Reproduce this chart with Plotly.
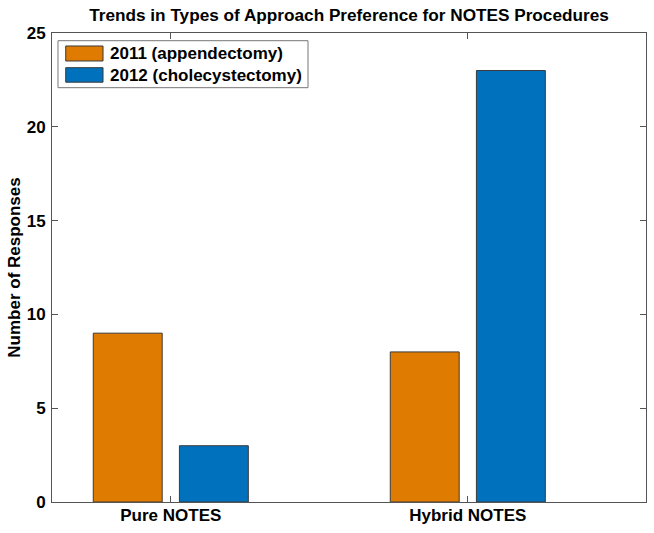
import plotly.graph_objects as go

categories = ["Pure NOTES", "Hybrid NOTES"]
series_names = ["2011 (appendectomy)", "2012 (cholecystectomy)"]
values_2011 = [9, 8]
values_2012 = [3, 23]
y_ticks = [0, 5, 10, 15, 20, 25]
colors = ["#DF7B00", "#0072BD"]

xpos = [1, 2]
FONT = "Liberation Sans, Arial, sans-serif"
AX = "#555555"
FS = 17

fig = go.Figure()
bw = 0.232
for vals, col, off, name in [(values_2011, colors[0], -0.145, series_names[0]),
                             (values_2012, colors[1], 0.145, series_names[1])]:
    fig.add_trace(go.Bar(x=xpos, y=vals, name=name, width=bw, offset=off - bw / 2,
                         marker=dict(color=col, line=dict(color="#3a3a3a", width=1)),
                         showlegend=False, hoverinfo="skip"))

# custom MATLAB-style legend
fig.add_shape(type="rect", xref="paper", yref="paper", x0=0.0101, x1=0.431, y0=0.8834, y1=0.9836,
              line=dict(color="#777777", width=1), fillcolor="white")
sw = [(0.9723, 0.9403, 0.9562), (0.9261, 0.8951, 0.9104)]
for (y1, y0, yc), col, name in zip(sw, colors, series_names):
    fig.add_shape(type="rect", xref="paper", yref="paper", x0=0.0231, x1=0.0859, y0=y0, y1=y1,
                  line=dict(color="#3a3a3a", width=1), fillcolor=col)
    fig.add_annotation(xref="paper", yref="paper", x=0.0943, y=yc, text=name, showarrow=False,
                       xanchor="left", yanchor="middle",
                       font=dict(family=FONT, size=FS, color="black", weight="bold"))

fig.update_layout(
    width=654, height=533,
    margin=dict(l=52, r=8, t=33, b=31, autoexpand=False),
    paper_bgcolor="white", plot_bgcolor="white",
    barmode="overlay",
    title=dict(text="Trends in Types of Approach Preference for NOTES Procedures",
               x=(52 + 646) / 2 / 654, xanchor="center", y=1 - 15 / 533, yanchor="middle",
               automargin=False,
               font=dict(family=FONT, size=17.2, color="black", weight="bold")),
    xaxis=dict(range=[0.6, 2.6], tickvals=xpos, ticktext=categories, ticks="inside", ticklen=6,
               tickcolor=AX, showline=True, linecolor=AX, linewidth=1, mirror="ticks",
               showgrid=False, zeroline=False, ticklabelstandoff=-2, automargin=False,
               tickfont=dict(family=FONT, size=FS, color="black", weight="bold")),
    yaxis=dict(range=[0, 25], tickvals=y_ticks, ticks="inside", ticklen=6,
               tickcolor=AX, showline=True, linecolor=AX, linewidth=1, mirror="ticks",
               showgrid=False, zeroline=False, ticklabelstandoff=2, automargin=False,
               title=dict(text="Number of Responses", standoff=1,
                          font=dict(family=FONT, size=FS, color="black", weight="bold")),
               tickfont=dict(family=FONT, size=FS, color="black", weight="bold")),
)

fig.write_html("out.html", config={"displayModeBar": False},
               post_script="document.body.style.margin='0';document.body.style.overflow='hidden';")
